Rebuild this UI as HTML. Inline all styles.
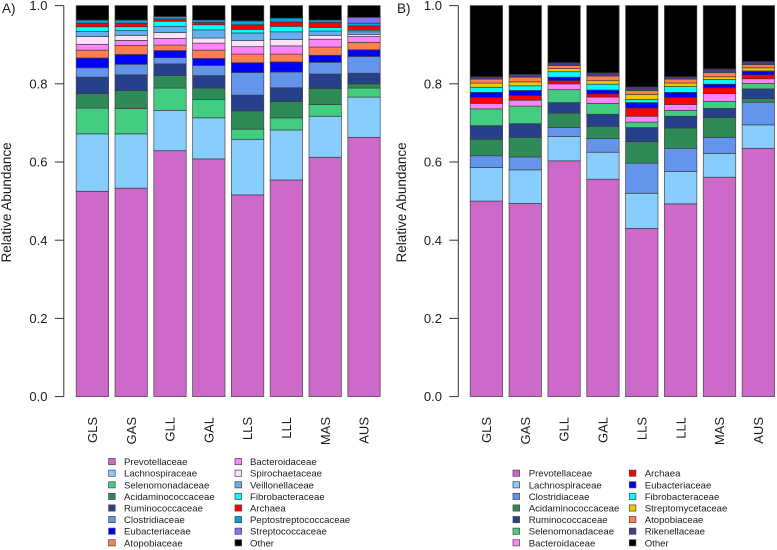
<!DOCTYPE html>
<html>
<head>
<meta charset="utf-8">
<title>Relative Abundance Stacked Bars</title>
<style>
html,body{margin:0;padding:0;background:#fff;}
body{width:777px;height:550px;overflow:hidden;}
svg{display:block;filter:blur(.3px);}
text{font-family:"Liberation Sans",sans-serif;fill:#1c1c1c;}
</style>
</head>
<body>
<svg id="chart" width="777" height="550" viewBox="0 0 777 550" xmlns="http://www.w3.org/2000/svg"></svg>
<script>
const categories = ['GLS','GAS','GLL','GAL','LLS','LLL','MAS','AUS'];
const yTicks = [0, 0.2, 0.4, 0.6, 0.8, 1.0];

// Panel A series, bottom to top
const prevotellaceaeA = [.525,.533,.629,.608,.516,.554,.612,.663];
const lachnospiraceaeA = [.147,.139,.103,.105,.142,.128,.105,.103];
const selenomonadaceaeA = [.066,.065,.057,.047,.026,.031,.030,.023];
const acidaminococcaceaeA = [.037,.046,.032,.029,.047,.042,.041,.011];
const ruminococcaceaeA = [.042,.040,.030,.032,.040,.035,.037,.027];
const clostridiaceaeA = [.024,.027,.016,.026,.058,.040,.030,.043];
const eubacteriaceaeA = [.025,.025,.018,.018,.025,.026,.018,.017];
const atopobiaceaeA = [.020,.023,.014,.021,.022,.020,.021,.019];
const bacteroidaceaeA = [.015,.013,.017,.018,.019,.021,.020,.015];
const spirochaetaceaeA = [.020,.013,.015,.013,.016,.016,.010,.005];
const veillonellaceaeA = [.013,.012,.016,.021,.019,.020,.011,.007];
const fibrobacteraceaeA = [.012,.010,.013,.013,.009,.014,.009,.004];
const archaeaA = [.009,.009,.006,.006,.012,.011,.013,.011];
const peptostreptococcaceaeA = [.008,.008,.006,.006,.010,.010,.006,.007];
const streptococcaceaeA = [0,0,0,0,0,0,0,.015];
const otherA = [.037,.037,.028,.037,.039,.032,.037,.030];

// Panel B series, bottom to top
const prevotellaceaeB = [.500,.494,.603,.556,.430,.493,.561,.635];
const lachnospiraceaeB = [.086,.086,.062,.069,.090,.083,.061,.060];
const clostridiaceaeB = [.030,.033,.023,.035,.077,.059,.041,.058];
const acidaminococcaceaeB = [.042,.050,.037,.031,.055,.052,.051,.009];
const ruminococcaceaeB = [.035,.035,.027,.031,.036,.030,.023,.025];
const selenomonadaceaeB = [.043,.045,.033,.028,.014,.015,.018,.014];
const bacteroidaceaeB = [.014,.015,.015,.016,.015,.015,.020,.012];
const archaeaB = [.015,.012,.008,.008,.021,.018,.015,.010];
const eubacteriaceaeB = [.013,.013,.009,.010,.014,.013,.009,.009];
const fibrobacteraceaeB = [.013,.012,.014,.015,.008,.015,.012,.001];
const streptomycetaceaeB = [.011,.010,.008,.009,.013,.009,.007,.008];
const atopobiaceaeB = [.010,.012,.008,.012,.010,.010,.011,.008];
const rikenellaceaeB = [.006,.007,.007,.008,.009,.006,.009,.008];
const otherB = [.182,.176,.146,.172,.208,.182,.162,.143];

const colorOf = {
  'Prevotellaceae':'#CD69C9','Lachnospiraceae':'#87CEFF','Selenomonadaceae':'#43CD80',
  'Acidaminococcaceae':'#2E8B57','Ruminococcaceae':'#27408B','Clostridiaceae':'#6495ED',
  'Eubacteriaceae':'#0000FF','Atopobiaceae':'#FF7F50','Bacteroidaceae':'#FF83FA',
  'Spirochaetaceae':'#FFE1FF','Veillonellaceae':'#63B0F0','Fibrobacteraceae':'#00FFFF',
  'Archaea':'#FF0000','Peptostreptococcaceae':'#00A5E0','Streptococcaceae':'#8470FF',
  'Streptomycetaceae':'#EEC900','Rikenellaceae':'#483D8B','Other':'#000000'
};

const seriesA = [
  ['Prevotellaceae',prevotellaceaeA],['Lachnospiraceae',lachnospiraceaeA],['Selenomonadaceae',selenomonadaceaeA],
  ['Acidaminococcaceae',acidaminococcaceaeA],['Ruminococcaceae',ruminococcaceaeA],['Clostridiaceae',clostridiaceaeA],
  ['Eubacteriaceae',eubacteriaceaeA],['Atopobiaceae',atopobiaceaeA],['Bacteroidaceae',bacteroidaceaeA],
  ['Spirochaetaceae',spirochaetaceaeA],['Veillonellaceae',veillonellaceaeA],['Fibrobacteraceae',fibrobacteraceaeA],
  ['Archaea',archaeaA],['Peptostreptococcaceae',peptostreptococcaceaeA],['Streptococcaceae',streptococcaceaeA],['Other',otherA]
];
const seriesB = [
  ['Prevotellaceae',prevotellaceaeB],['Lachnospiraceae',lachnospiraceaeB],['Clostridiaceae',clostridiaceaeB],
  ['Acidaminococcaceae',acidaminococcaceaeB],['Ruminococcaceae',ruminococcaceaeB],['Selenomonadaceae',selenomonadaceaeB],
  ['Bacteroidaceae',bacteroidaceaeB],['Archaea',archaeaB],['Eubacteriaceae',eubacteriaceaeB],
  ['Fibrobacteraceae',fibrobacteraceaeB],['Streptomycetaceae',streptomycetaceaeB],['Atopobiaceae',atopobiaceaeB],
  ['Rikenellaceae',rikenellaceaeB],['Other',otherB]
];

const NS = 'http://www.w3.org/2000/svg';
const root = document.getElementById('chart');
function make(tag, parent, attrs, content) {
  const node = document.createElementNS(NS, tag);
  for (const k in attrs) node.setAttribute(k, attrs[k]);
  if (content !== undefined) node.textContent = content;
  parent.appendChild(node);
  return node;
}
const slug = s => s.toLowerCase();

function yScale(v) { return 396.6 - v * 391; }

function drawPanel(p) {
  const xScale = i => p.barLeft + i * p.barStep;
  const g = make('g', root, {});
  
  

  const tag = make('text', g, {x:p.tagX, y:13, 'font-size':13.5}, p.tag);
  
  

  const title = make('text', g, {'font-size':13.5, 'text-anchor':'middle',
    transform:'translate(' + p.titleX + ',202.4) rotate(-90)'}, 'Relative Abundance');
  
  

  const axis = make('line', g, {x1:p.axisX, x2:p.axisX, y1:yScale(0), y2:yScale(1), stroke:'#333', 'stroke-width':1});
  
  

  yTicks.forEach(t => {
    const tick = make('line', g, {x1:p.axisX - 9, x2:p.axisX, y1:yScale(t), y2:yScale(t), stroke:'#333', 'stroke-width':1});
    
    
    const label = make('text', g, {x:p.axisX - 16.3, y:yScale(t) + 4.6, 'font-size':13, 'text-anchor':'end'}, t.toFixed(1));
    
    
  });

  categories.forEach((c, i) => {
    let cum = 0;
    const barGroup = make('g', g, {});
    
    
    p.series.forEach(s => {
      const v = s[1][i];
      if (v > 0) {
        const rect = make('rect', barGroup, {x:xScale(i), width:p.barWidth, y:yScale(cum + v), height:yScale(cum) - yScale(cum + v),
          fill:colorOf[s[0]], stroke:'#3a3a3a', 'stroke-width':0.8, 'stroke-opacity':0.8});
        
        
      }
      cum += v;
    });
    const cx = xScale(i) + p.barWidth / 2;
    const label = make('text', g, {'font-size':13, 'text-anchor':'end',
      transform:'translate(' + (cx + 4.6) + ',417) rotate(-90)'}, c);
    
    
  });

  const legend = make('g', g, {});
  
  
  p.series.forEach((s, i) => {
    const col = i < p.legendPerCol ? 0 : 1;
    const row = col === 0 ? i : i - p.legendPerCol;
    const cy = p.legendTop + row * 11.6;
    const sw = make('rect', legend, {x:p.legendSwatchX[col], y:cy - 3.2, width:6.6, height:6.2,
      fill:colorOf[s[0]], stroke:'#444', 'stroke-width':0.7});
    
    
    const tx = make('text', legend, {x:p.legendTextX[col], y:cy + 3.4, 'font-size':9.6, fill:'#333'}, s[0]);
    
    
  });
}

drawPanel({id:'a', tag:'A)', tagX:2, titleX:10.8, axisX:63.8, barLeft:76.2, barStep:38.8, barWidth:32.4,
  series:seriesA, legendPerCol:8, legendTop:461.7, legendSwatchX:[108.6,235], legendTextX:[124,250]});
drawPanel({id:'b', tag:'B)', tagX:397, titleX:405.8, axisX:458.3, barLeft:470.2, barStep:38.85, barWidth:32.4,
  series:seriesB, legendPerCol:7, legendTop:473.3, legendSwatchX:[513,629.3], legendTextX:[528.7,644.7]});
</script>
</body>
</html>
